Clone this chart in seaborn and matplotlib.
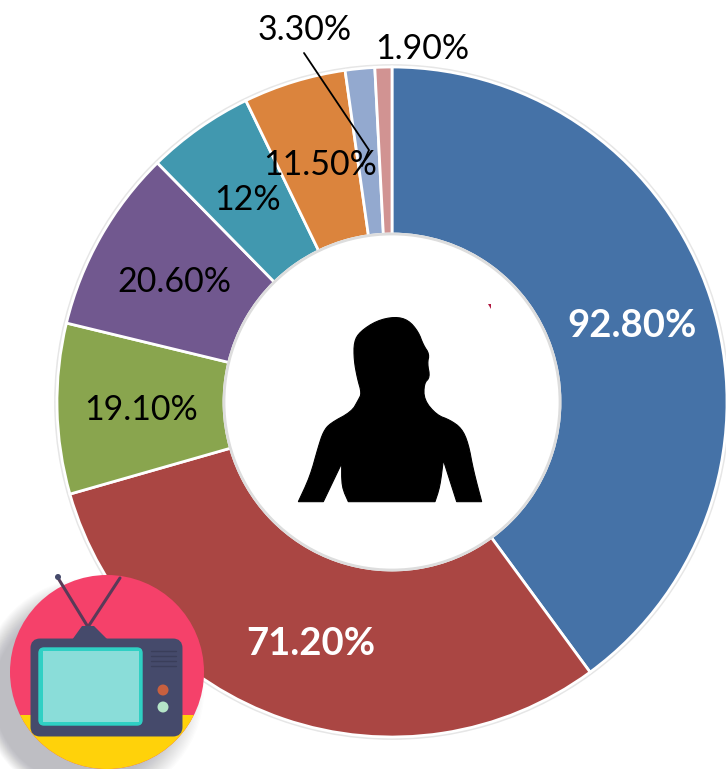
import matplotlib
matplotlib.use("Agg")
import matplotlib.pyplot as plt
from matplotlib.patches import Circle, Polygon, Rectangle, FancyBboxPatch
import seaborn as sns

W, H = 726, 769

# slice values, clockwise from twelve o'clock
VALUES = [92.8, 71.2, 19.1, 20.6, 12.0, 11.5, 3.3, 1.9]
LABELS = ["92.80%", "71.20%", "19.10%", "20.60%", "12%", "11.50%", "3.30%", "1.90%"]
COLORS = ["#4572A7", "#AA4643", "#89A54E", "#71588F", "#4198AF", "#DB843D", "#93A9CF", "#D19392"]

# label centres in image pixels
LABEL_POS = [(632, 326), (311, 644), (141, 410), (174, 282), (248, 200), (320, 165), (305, 30), (422, 49)]
BOLD_WHITE = {"92.80%", "71.20%"}

CENTER = (392, 402)
R_OUT = 335
R_IN = 168

SILHOUETTE = [(55, 605), (90, 530), (115, 440), (130, 395), (150, 370), (215, 335), (235, 300),
              (245, 280), (232, 235), (222, 180), (222, 125), (240, 95), (290, 62), (345, 50),
              (385, 60), (415, 95), (430, 135), (448, 162), (442, 190), (450, 232), (432, 250),
              (432, 300), (470, 345), (510, 360), (545, 385), (565, 430), (580, 510), (605, 605),
              (530, 605), (490, 480), (480, 560), (465, 605), (205, 605), (185, 560), (185, 490),
              (130, 605)]
SHARP = {(55, 605), (605, 605), (530, 605), (490, 480), (465, 605), (205, 605), (185, 490), (130, 605)}


def py(y):
    return H - y


def smooth(points, sharp, rounds=2):
    # corner cutting for the outline, the flat hem and armpits stay sharp
    for _ in range(rounds):
        out = []
        for i, p in enumerate(points):
            prev = points[i - 1]
            nxt = points[(i + 1) % len(points)]
            if p in sharp:
                out.append(p)
                continue
            out.append((0.75 * p[0] + 0.25 * prev[0], 0.75 * p[1] + 0.25 * prev[1]))
            out.append((0.75 * p[0] + 0.25 * nxt[0], 0.75 * p[1] + 0.25 * nxt[1]))
        points = out
    return points


def draw_tv(ax):
    # soft grey shadow falling to the lower left
    for i in range(24):
        ax.add_patch(Circle((92 - i * 0.4, py(690 + i * 0.2)), 112 - i * 1.0,
                            fc="#666677", ec="none", alpha=0.02, zorder=4))
    cx, cy, r = 107, py(672), 97
    disc = Circle((cx, cy), r, fc="#F5416A", ec="none", zorder=5)
    ax.add_patch(disc)
    band = Rectangle((0, 0), 220, py(715), fc="#FFD20A", ec="none", zorder=5.1)
    ax.add_patch(band)
    band.set_clip_path(disc)

    for tip in [(58, 578), (120, 578)]:
        ax.plot([tip[0], 88], [py(tip[1]), py(627)], color="#5A3A58", lw=2.2, zorder=5.2)
    ax.add_patch(Circle((58, py(577)), 3, fc="#454A6B", ec="none", zorder=5.3))
    ax.add_patch(Polygon([(72, py(640)), (82, py(626)), (94, py(626)), (108, py(640))],
                         fc="#454A6B", ec="none", zorder=5.3))

    ax.add_patch(FancyBboxPatch((34, py(733)), 145, 91, boxstyle="round,pad=0,rounding_size=6",
                                fc="#454A6B", ec="#454A6B", lw=5, zorder=5.3))
    ax.add_patch(FancyBboxPatch((39, py(725)), 103, 77, boxstyle="round,pad=0,rounding_size=5",
                                fc="#2FD0C4", ec="#2FD0C4", lw=1, zorder=5.4))
    ax.add_patch(Rectangle((43, py(722)), 96, 71, fc="#8ADDD9", ec="none", zorder=5.5))
    for vy in [651, 656, 661, 666]:
        ax.plot([151, 176], [py(vy), py(vy)], color="#3A3E5A", lw=1, zorder=5.5)
    ax.add_patch(Circle((163, py(690)), 5.5, fc="#C8603F", ec="none", zorder=5.5))
    ax.add_patch(Circle((163, py(707)), 5.5, fc="#B5E5C8", ec="none", zorder=5.5))


sns.set_theme(style="white")
plt.rcParams["font.family"] = ["Lato", "DejaVu Sans"]

fig = plt.figure(figsize=(W / 100, H / 100), dpi=100, facecolor="white")
ax = fig.add_axes([0, 0, 1, 1])

palette = sns.color_palette(COLORS)
ax.add_patch(Circle((CENTER[0], py(CENTER[1])), R_OUT + 1.5, fc="none", ec="#E6E6E6", lw=2, zorder=0))
ax.pie(
    VALUES,
    colors=palette,
    startangle=90,
    counterclock=False,
    center=(CENTER[0], py(CENTER[1])),
    radius=R_OUT,
    wedgeprops={"width": R_OUT - R_IN, "edgecolor": "white", "linewidth": 2},
)
ax.add_patch(Circle((CENTER[0], py(CENTER[1])), R_IN, fc="white", ec="#DDDDDD", lw=2, zorder=2))
ax.add_patch(Polygon([(488, py(304)), (491, py(304)), (491, py(309))], fc="#B01840", ec="none", zorder=3))

outline = smooth(SILHOUETTE, SHARP)
ax.add_patch(Polygon([(280 + x / 3, py(300 + y / 3)) for x, y in outline],
                     fc="black", ec="black", lw=0.8, joinstyle="miter", zorder=3))

# leader line for the 3.30% label
ax.plot([304, 369, 362], [py(53), py(150), py(166)], color="black", lw=1.3, zorder=3)

for label, (x, y) in zip(LABELS, LABEL_POS):
    if label in BOLD_WHITE:
        ax.text(x, py(y), label, color="white", fontsize=27.5, fontweight="bold",
                ha="center", va="center", zorder=4)
    else:
        ax.text(x, py(y), label, color="black", fontsize=24.5,
                ha="center", va="center", zorder=4)

draw_tv(ax)

ax.set_xlim(0, W)
ax.set_ylim(0, H)
ax.set_aspect("equal")
ax.axis("off")

fig.savefig("out.png", dpi=100, facecolor="white")
